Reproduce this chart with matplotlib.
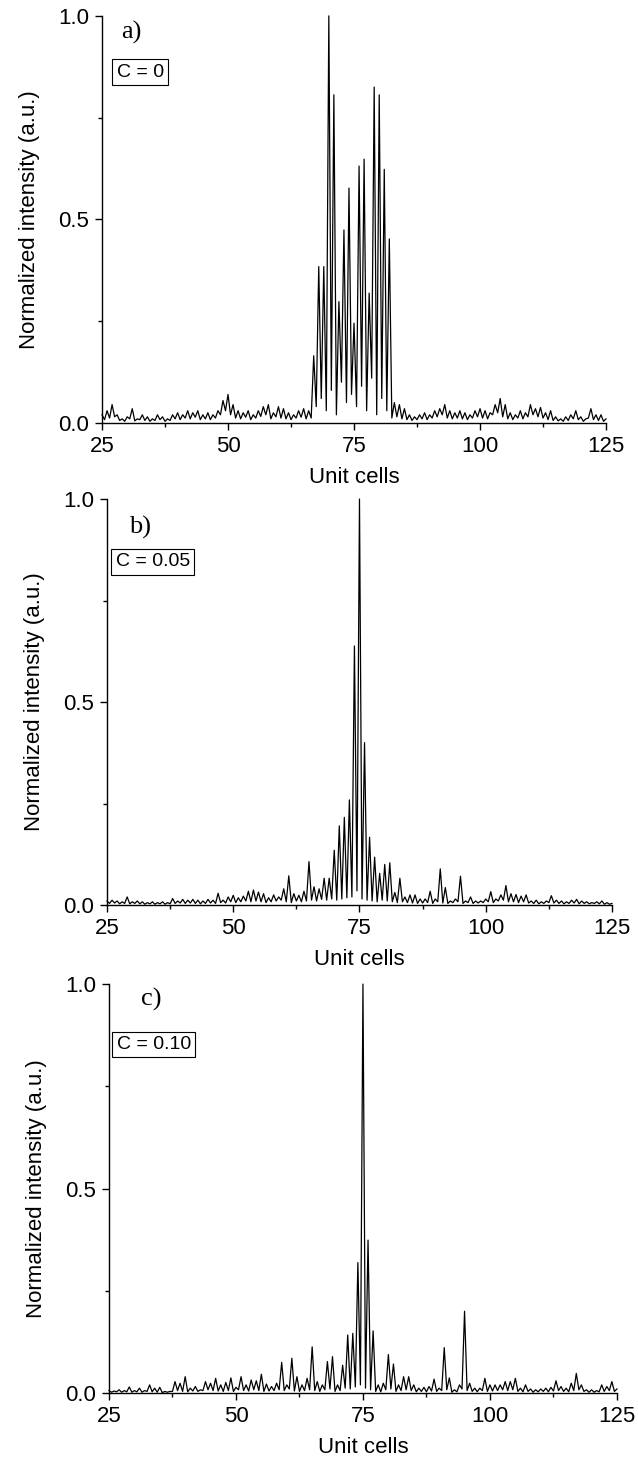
import numpy as np
import matplotlib
matplotlib.use('Agg')
import matplotlib.pyplot as plt
from matplotlib.ticker import MultipleLocator, FormatStrFormatter

plt.rcParams['font.family'] = ['Liberation Sans', 'DejaVu Sans']

# intensity at the lattice sites 25..125
cells = np.arange(25, 126)

peaks_a = [
    0.020, 0.030, 0.045, 0.020, 0.010, 0.015, 0.035, 0.010, 0.020, 0.015,
    0.010, 0.020, 0.015, 0.010, 0.020, 0.025, 0.020, 0.030, 0.025, 0.030,
    0.020, 0.025, 0.020, 0.030, 0.055, 0.070, 0.045, 0.030, 0.025, 0.030,
    0.020, 0.030, 0.040, 0.045, 0.025, 0.040, 0.035, 0.025, 0.020, 0.030,
    0.035, 0.030, 0.165, 0.384, 0.384, 1.000, 0.806, 0.298, 0.474, 0.577,
    0.245, 0.631, 0.648, 0.319, 0.825, 0.806, 0.623, 0.452, 0.050, 0.045,
    0.035, 0.020, 0.015, 0.020, 0.025, 0.020, 0.030, 0.035, 0.045, 0.030,
    0.025, 0.030, 0.025, 0.020, 0.030, 0.035, 0.030, 0.025, 0.045, 0.060,
    0.045, 0.025, 0.020, 0.030, 0.025, 0.045, 0.035, 0.038, 0.025, 0.030,
    0.015, 0.010, 0.015, 0.020, 0.030, 0.015, 0.010, 0.035, 0.020, 0.020,
    0.010,
]
troughs_a = [
    0.008, 0.012, 0.015, 0.006, 0.004, 0.010, 0.005, 0.008, 0.006, 0.004,
    0.006, 0.008, 0.004, 0.006, 0.010, 0.008, 0.012, 0.010, 0.014, 0.008,
    0.010, 0.008, 0.012, 0.020, 0.030, 0.020, 0.012, 0.010, 0.014, 0.008,
    0.012, 0.016, 0.020, 0.010, 0.015, 0.012, 0.010, 0.008, 0.012, 0.014,
    0.010, 0.012, 0.040, 0.060, 0.030, 0.080, 0.020, 0.100, 0.050, 0.070,
    0.040, 0.090, 0.030, 0.110, 0.020, 0.060, 0.030, 0.012, 0.015, 0.010,
    0.008, 0.006, 0.008, 0.010, 0.008, 0.012, 0.015, 0.020, 0.012, 0.010,
    0.012, 0.010, 0.008, 0.012, 0.015, 0.012, 0.010, 0.020, 0.025, 0.015,
    0.010, 0.008, 0.012, 0.010, 0.015, 0.020, 0.015, 0.012, 0.008, 0.006,
    0.005, 0.004, 0.006, 0.010, 0.008, 0.004, 0.012, 0.008, 0.006, 0.004,
]

peaks_b = [
    0.010, 0.012, 0.010, 0.008, 0.020, 0.008, 0.010, 0.008, 0.006, 0.008,
    0.006, 0.008, 0.006, 0.016, 0.010, 0.014, 0.012, 0.014, 0.012, 0.010,
    0.014, 0.012, 0.029, 0.012, 0.020, 0.024, 0.018, 0.022, 0.034, 0.037,
    0.032, 0.028, 0.018, 0.025, 0.020, 0.040, 0.072, 0.028, 0.024, 0.034,
    0.107, 0.045, 0.040, 0.066, 0.066, 0.135, 0.195, 0.216, 0.259, 0.638,
    1.000, 0.400, 0.167, 0.118, 0.078, 0.100, 0.104, 0.031, 0.066, 0.020,
    0.025, 0.025, 0.015, 0.015, 0.034, 0.015, 0.089, 0.043, 0.010, 0.015,
    0.071, 0.010, 0.020, 0.010, 0.010, 0.015, 0.033, 0.015, 0.025, 0.048,
    0.028, 0.026, 0.022, 0.025, 0.010, 0.012, 0.008, 0.010, 0.023, 0.012,
    0.010, 0.008, 0.012, 0.014, 0.010, 0.008, 0.006, 0.008, 0.010, 0.006,
    0.004,
]
troughs_b = [
    0.004, 0.005, 0.003, 0.004, 0.003, 0.004, 0.003, 0.002, 0.003, 0.002,
    0.003, 0.002, 0.003, 0.004, 0.005, 0.004, 0.005, 0.004, 0.003, 0.004,
    0.005, 0.004, 0.006, 0.005, 0.008, 0.006, 0.008, 0.010, 0.008, 0.010,
    0.008, 0.006, 0.008, 0.010, 0.012, 0.008, 0.006, 0.010, 0.008, 0.010,
    0.012, 0.010, 0.014, 0.012, 0.015, 0.012, 0.015, 0.018, 0.020, 0.035,
    0.015, 0.012, 0.010, 0.008, 0.012, 0.010, 0.008, 0.006, 0.008, 0.006,
    0.005, 0.004, 0.005, 0.006, 0.004, 0.008, 0.005, 0.004, 0.006, 0.008,
    0.004, 0.006, 0.004, 0.005, 0.006, 0.008, 0.006, 0.010, 0.012, 0.008,
    0.008, 0.006, 0.008, 0.005, 0.004, 0.003, 0.004, 0.006, 0.005, 0.004,
    0.003, 0.004, 0.005, 0.003, 0.004, 0.003, 0.004, 0.003, 0.002, 0.002,
]

peaks_c = [
    0.006, 0.005, 0.008, 0.006, 0.015, 0.006, 0.012, 0.006, 0.020, 0.012,
    0.014, 0.004, 0.004, 0.028, 0.024, 0.040, 0.012, 0.016, 0.008, 0.028,
    0.024, 0.036, 0.020, 0.026, 0.037, 0.014, 0.040, 0.020, 0.032, 0.030,
    0.046, 0.022, 0.016, 0.024, 0.075, 0.020, 0.085, 0.040, 0.020, 0.036,
    0.113, 0.028, 0.020, 0.077, 0.089, 0.020, 0.068, 0.142, 0.146, 0.319,
    1.000, 0.374, 0.152, 0.020, 0.024, 0.094, 0.071, 0.020, 0.040, 0.040,
    0.020, 0.012, 0.014, 0.016, 0.034, 0.012, 0.111, 0.037, 0.008, 0.020,
    0.200, 0.024, 0.012, 0.012, 0.036, 0.020, 0.020, 0.020, 0.028, 0.028,
    0.036, 0.012, 0.020, 0.010, 0.008, 0.010, 0.012, 0.014, 0.030, 0.016,
    0.012, 0.024, 0.048, 0.020, 0.008, 0.008, 0.006, 0.020, 0.016, 0.028,
    0.010,
]
troughs_c = [
    0.002, 0.003, 0.002, 0.003, 0.002, 0.003, 0.002, 0.004, 0.003, 0.002,
    0.001, 0.002, 0.004, 0.006, 0.004, 0.003, 0.005, 0.004, 0.006, 0.008,
    0.006, 0.005, 0.004, 0.006, 0.004, 0.008, 0.006, 0.005, 0.008, 0.006,
    0.004, 0.005, 0.006, 0.008, 0.006, 0.010, 0.005, 0.004, 0.006, 0.008,
    0.006, 0.004, 0.008, 0.010, 0.004, 0.006, 0.012, 0.010, 0.015, 0.020,
    0.012, 0.008, 0.004, 0.003, 0.008, 0.010, 0.004, 0.006, 0.008, 0.006,
    0.003, 0.004, 0.003, 0.005, 0.004, 0.006, 0.008, 0.002, 0.003, 0.010,
    0.006, 0.004, 0.003, 0.006, 0.004, 0.005, 0.006, 0.008, 0.006, 0.008,
    0.004, 0.003, 0.004, 0.002, 0.003, 0.004, 0.003, 0.005, 0.006, 0.004,
    0.003, 0.006, 0.008, 0.004, 0.002, 0.002, 0.003, 0.004, 0.006, 0.004,
]

panel_tags = ['a)', 'b)', 'c)']
conc_labels = ['C = 0', 'C = 0.05', 'C = 0.10']

# axes rectangles in figure fractions
rects = [
    [0.1599, 0.7121, 0.7900, 0.2771],
    [0.1677, 0.3839, 0.7915, 0.2764],
    [0.1708, 0.0517, 0.7962, 0.2784],
]
tag_pos = [(28.8, 0.96), (29.4, 0.93), (31.3, 0.963)]
box_pos = [(27.9, 0.862), (26.7, 0.845), (26.5, 0.852)]


def interleave(peaks, troughs):
    y = np.empty(len(peaks) + len(troughs))
    y[0::2] = peaks
    y[1::2] = troughs
    return y


def main():
    x = np.empty(2 * len(cells) - 1)
    x[0::2] = cells
    x[1::2] = cells[:-1] + 0.5

    series = [interleave(peaks_a, troughs_a),
              interleave(peaks_b, troughs_b),
              interleave(peaks_c, troughs_c)]

    fig = plt.figure(figsize=(6.38, 14.69), dpi=100)
    for i, y in enumerate(series):
        ax = fig.add_axes(rects[i])
        ax.plot(x, y, color='black', lw=0.9, clip_on=False)
        ax.set_xlim(25, 125)
        ax.set_ylim(0, 1.0)
        for side in ['top', 'right']:
            ax.spines[side].set_visible(False)
        for side in ['left', 'bottom']:
            ax.spines[side].set_linewidth(1.0)
        ax.xaxis.set_major_locator(MultipleLocator(25))
        ax.xaxis.set_minor_locator(MultipleLocator(12.5))
        ax.yaxis.set_major_locator(MultipleLocator(0.5))
        ax.yaxis.set_minor_locator(MultipleLocator(0.25))
        ax.yaxis.set_major_formatter(FormatStrFormatter('%.1f'))
        ax.tick_params(which='major', direction='out', length=5, width=1.0,
                       labelsize=16, pad=4.5)
        ax.tick_params(which='minor', direction='out', length=3, width=1.0)
        ax.set_xlabel('Unit cells', fontsize=16, labelpad=7)
        ax.set_ylabel('Normalized intensity (a.u.)', fontsize=16, labelpad=13)

        tx, ty = tag_pos[i]
        ax.text(tx, ty, panel_tags[i], fontsize=19, va='center', ha='left',
                family=['Liberation Serif', 'DejaVu Serif'])
        bx, by = box_pos[i]
        ax.text(bx, by, conc_labels[i], fontsize=14, va='center', ha='left',
                bbox=dict(boxstyle='square,pad=0.22', fc='white', ec='black',
                          lw=0.8))

    fig.savefig('out.png', dpi=100)


if __name__ == '__main__':
    main()
